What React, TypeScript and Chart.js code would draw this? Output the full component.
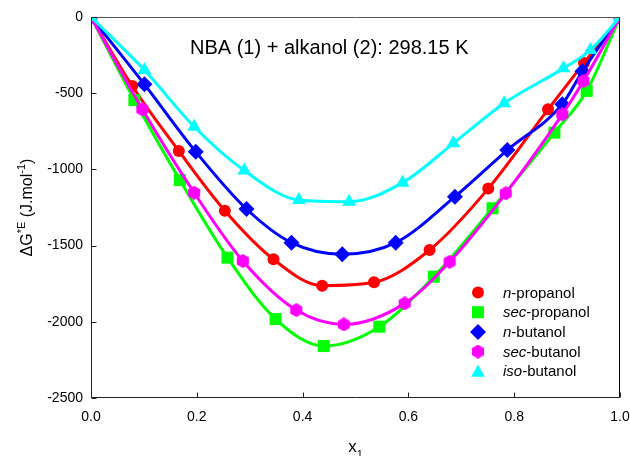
import React, { useEffect, useRef } from 'react';
import { Chart, registerables } from 'chart.js';

Chart.register(...registerables);

const xTicks = [0, 0.2, 0.4, 0.6, 0.8, 1.0];
const yTicks = [0, -500, -1000, -1500, -2000, -2500];

const seriesNames = ['n-propanol', 'sec-propanol', 'n-butanol', 'sec-butanol', 'iso-butanol'];
const seriesPrefix = ['n', 'sec', 'n', 'sec', 'iso'];
const seriesColors = ['#ff0000', '#00ff00', '#0000ff', '#ff00ff', '#00ffff'];

const nPropX = [0, 0.078, 0.166, 0.253, 0.345, 0.437, 0.535, 0.640, 0.751, 0.864, 0.932, 1];
const nPropY = [0, -453, -879, -1271, -1590, -1763, -1741, -1529, -1126, -606, -302, 0];

const secPropX = [0, 0.082, 0.168, 0.258, 0.349, 0.440, 0.545, 0.648, 0.759, 0.876, 0.937, 1];
const secPropY = [0, -545, -1070, -1579, -1982, -2159, -2032, -1704, -1255, -759, -485, 0];

const nButX = [0, 0.101, 0.198, 0.294, 0.379, 0.475, 0.576, 0.688, 0.787, 0.891, 0.929, 1];
const nButY = [0, -442, -884, -1260, -1481, -1557, -1481, -1179, -873, -572, -356, 0];

const secButX = [0, 0.097, 0.195, 0.287, 0.388, 0.478, 0.593, 0.678, 0.784, 0.891, 0.931, 1];
const secButY = [0, -606, -1153, -1601, -1923, -2017, -1879, -1606, -1157, -639, -420, 0];

const isoButX = [0, 0.101, 0.195, 0.290, 0.393, 0.488, 0.589, 0.685, 0.781, 0.893, 0.944, 1];
const isoButY = [0, -348, -720, -1008, -1201, -1212, -1087, -829, -566, -337, -217, 0];

const allX = [nPropX, secPropX, nButX, secButX, isoButX];
const allY = [nPropY, secPropY, nButY, secButY, isoButY];

const titleText = 'NBA (1) + alkanol (2): 298.15 K';
const FONT = 'Arial, "Liberation Sans", sans-serif';

function makeHexagon(color: string, size: number): HTMLCanvasElement {
  const c = document.createElement('canvas');
  c.width = size;
  c.height = size;
  const ctx = c.getContext('2d')!;
  const r = size / 2;
  ctx.fillStyle = color;
  ctx.beginPath();
  for (let i = 0; i < 6; i++) {
    const a = -Math.PI / 2 + (i * Math.PI) / 3;
    const px = r + r * Math.cos(a);
    const py = r + r * Math.sin(a);
    if (i === 0) ctx.moveTo(px, py);
    else ctx.lineTo(px, py);
  }
  ctx.closePath();
  ctx.fill();
  return c;
}

function drawMarker(ctx: CanvasRenderingContext2D, idx: number, x: number, y: number, hex: HTMLCanvasElement) {
  ctx.save();
  ctx.fillStyle = seriesColors[idx];
  ctx.beginPath();
  if (idx === 0) {
    ctx.arc(x, y, 6, 0, Math.PI * 2);
    ctx.fill();
  } else if (idx === 1) {
    ctx.fillRect(x - 6, y - 6, 12, 12);
  } else if (idx === 2) {
    ctx.moveTo(x, y - 8);
    ctx.lineTo(x + 8, y);
    ctx.lineTo(x, y + 8);
    ctx.lineTo(x - 8, y);
    ctx.closePath();
    ctx.fill();
  } else if (idx === 3) {
    ctx.drawImage(hex, x - hex.width / 2, y - hex.height / 2);
  } else {
    const r = 8;
    for (let i = 0; i < 3; i++) {
      const a = -Math.PI / 2 + (i * 2 * Math.PI) / 3;
      const px = x + r * Math.cos(a);
      const py = y + 1.5 + r * Math.sin(a);
      if (i === 0) ctx.moveTo(px, py);
      else ctx.lineTo(px, py);
    }
    ctx.closePath();
    ctx.fill();
  }
  ctx.restore();
}

export default function App() {
  const ref = useRef<HTMLCanvasElement | null>(null);

  useEffect(() => {
    document.body.style.margin = '0';
    const canvas = ref.current;
    if (!canvas) return;
    const hex = makeHexagon(seriesColors[3], 14);

    const pointStyles: any[] = ['circle', 'rect', 'rectRot', hex, 'triangle'];
    const pointRadii = [6, 8.5, 8, 7, 8];

    const datasets = seriesNames.map((name, i) => ({
      label: name,
      data: allX[i].map((x, j) => ({ x, y: allY[i][j] })),
      borderColor: seriesColors[i],
      backgroundColor: seriesColors[i],
      pointBackgroundColor: seriesColors[i],
      pointBorderColor: seriesColors[i],
      pointBorderWidth: 0,
      pointStyle: pointStyles[i],
      pointRadius: pointRadii[i],
      borderWidth: 3,
      showLine: true,
      cubicInterpolationMode: 'monotone' as const,
      order: 5 - i,
    }));

    const overlay = {
      id: 'overlay',
      afterDraw(chart: any) {
        const ctx: CanvasRenderingContext2D = chart.ctx;
        const a = chart.chartArea;
        const xs = chart.scales.x;
        const ys = chart.scales.y;
        ctx.save();
        // frame
        const L = Math.round(a.left) + 0.5;
        const R = Math.round(a.right) - 0.5;
        const T = Math.round(a.top) + 0.5;
        const B = Math.round(a.bottom) - 0.5;
        ctx.lineWidth = 1;
        ctx.strokeStyle = '#555555';
        ctx.beginPath();
        ctx.moveTo(L, T);
        ctx.lineTo(R, T);
        ctx.stroke();
        ctx.strokeStyle = '#222222';
        ctx.beginPath();
        ctx.moveTo(L, T);
        ctx.lineTo(L, B);
        ctx.lineTo(R, B);
        ctx.stroke();
        ctx.strokeStyle = '#000000';
        ctx.beginPath();
        ctx.moveTo(R, T);
        ctx.lineTo(R, B);
        ctx.stroke();
        // inward ticks
        ctx.strokeStyle = '#222222';
        xTicks.forEach((t) => {
          const px = Math.round(xs.getPixelForValue(t)) + 0.5;
          ctx.beginPath();
          ctx.moveTo(px, B);
          ctx.lineTo(px, B - 5);
          ctx.stroke();
        });
        yTicks.forEach((t) => {
          const py = Math.round(ys.getPixelForValue(t)) + 0.5;
          ctx.beginPath();
          ctx.moveTo(L, py);
          ctx.lineTo(L + 5, py);
          ctx.stroke();
        });
        // title
        ctx.fillStyle = '#000000';
        ctx.font = '20px ' + FONT;
        ctx.textAlign = 'left';
        ctx.textBaseline = 'alphabetic';
        ctx.fillText(titleText, 190, 54);

        // x axis title
        const cx = (a.left + a.right) / 2;
        ctx.font = '17px ' + FONT;
        const wx = ctx.measureText('x').width;
        ctx.font = '11px ' + FONT;
        const w1 = ctx.measureText('1').width;
        let sx = cx - (wx + w1) / 2;
        ctx.font = '17px ' + FONT;
        ctx.fillText('x', sx, 452);
        ctx.font = '11px ' + FONT;
        ctx.fillText('1', sx + wx, 458);

        // y axis title (rotated)
        ctx.save();
        ctx.translate(32, (a.top + a.bottom) / 2);
        ctx.rotate(-Math.PI / 2);
        const parts: [string, number, number][] = [
          ['\u0394G', 16, 0],
          ['*E', 11, -7],
          [' (J.mol', 16, 0],
          ['-1', 11, -7],
          [')', 16, 0],
        ];
        let total = 0;
        parts.forEach(([s, f]) => {
          ctx.font = f + 'px ' + FONT;
          total += ctx.measureText(s).width;
        });
        let u = -total / 2;
        parts.forEach(([s, f, dv]) => {
          ctx.font = f + 'px ' + FONT;
          ctx.fillText(s, u, dv);
          u += ctx.measureText(s).width;
        });
        ctx.restore();

        // legend
        const lx = 478;
        const ly0 = 292.5;
        const dy = 19.7;
        seriesNames.forEach((name, i) => {
          const y = ly0 + i * dy;
          drawMarker(ctx, i, lx, y, hex);
          const pre = seriesPrefix[i];
          const rest = name.slice(pre.length);
          ctx.fillStyle = '#000000';
          ctx.textBaseline = 'middle';
          ctx.font = 'italic 15px ' + FONT;
          ctx.fillText(pre, 503, y + 1);
          const wp = ctx.measureText(pre).width;
          ctx.font = '15px ' + FONT;
          ctx.fillText(rest, 503 + wp, y + 1);
        });
        ctx.restore();
      },
    };

    const chart = new Chart(canvas, {
      type: 'scatter',
      data: { datasets: datasets as any },
      options: {
        animation: false,
        responsive: false,
        maintainAspectRatio: false,
        devicePixelRatio: 1,
        layout: { padding: { left: 0, right: 0, top: 17, bottom: 0 } },
        plugins: {
          legend: { display: false },
          title: { display: false },
          tooltip: { enabled: false },
        },
        scales: {
          x: {
            type: 'linear',
            min: 0,
            max: 1,
            afterFit: (s: any) => {
              s.height = 58;
              s.paddingRight = 10;
              s.paddingLeft = 0;
            },
            afterBuildTicks: (s: any) => {
              s.ticks = xTicks.map((v) => ({ value: v }));
            },
            border: { display: false },
            grid: { display: false, drawTicks: false },
            ticks: {
              padding: 11,
              color: '#000000',
              font: { size: 14, family: FONT },
              maxRotation: 0,
              callback: (v: any) => Number(v).toFixed(1),
            },
          },
          y: {
            type: 'linear',
            min: -2500,
            max: 0,
            afterFit: (s: any) => {
              s.width = 91;
            },
            afterBuildTicks: (s: any) => {
              s.ticks = yTicks.map((v) => ({ value: v }));
            },
            border: { display: false },
            grid: { display: false, drawTicks: false },
            ticks: {
              padding: 8,
              color: '#000000',
              font: { size: 14, family: FONT },
              callback: (v: any) => String(v),
            },
          },
        },
      },
      plugins: [overlay],
    });

    return () => {
      chart.destroy();
    };
  }, []);

  return (
    <div style={{ width: 630, height: 456 }}>
      <canvas ref={ref} width={630} height={456} style={{ display: 'block', width: 630, height: 456 }} />
    </div>
  );
}
